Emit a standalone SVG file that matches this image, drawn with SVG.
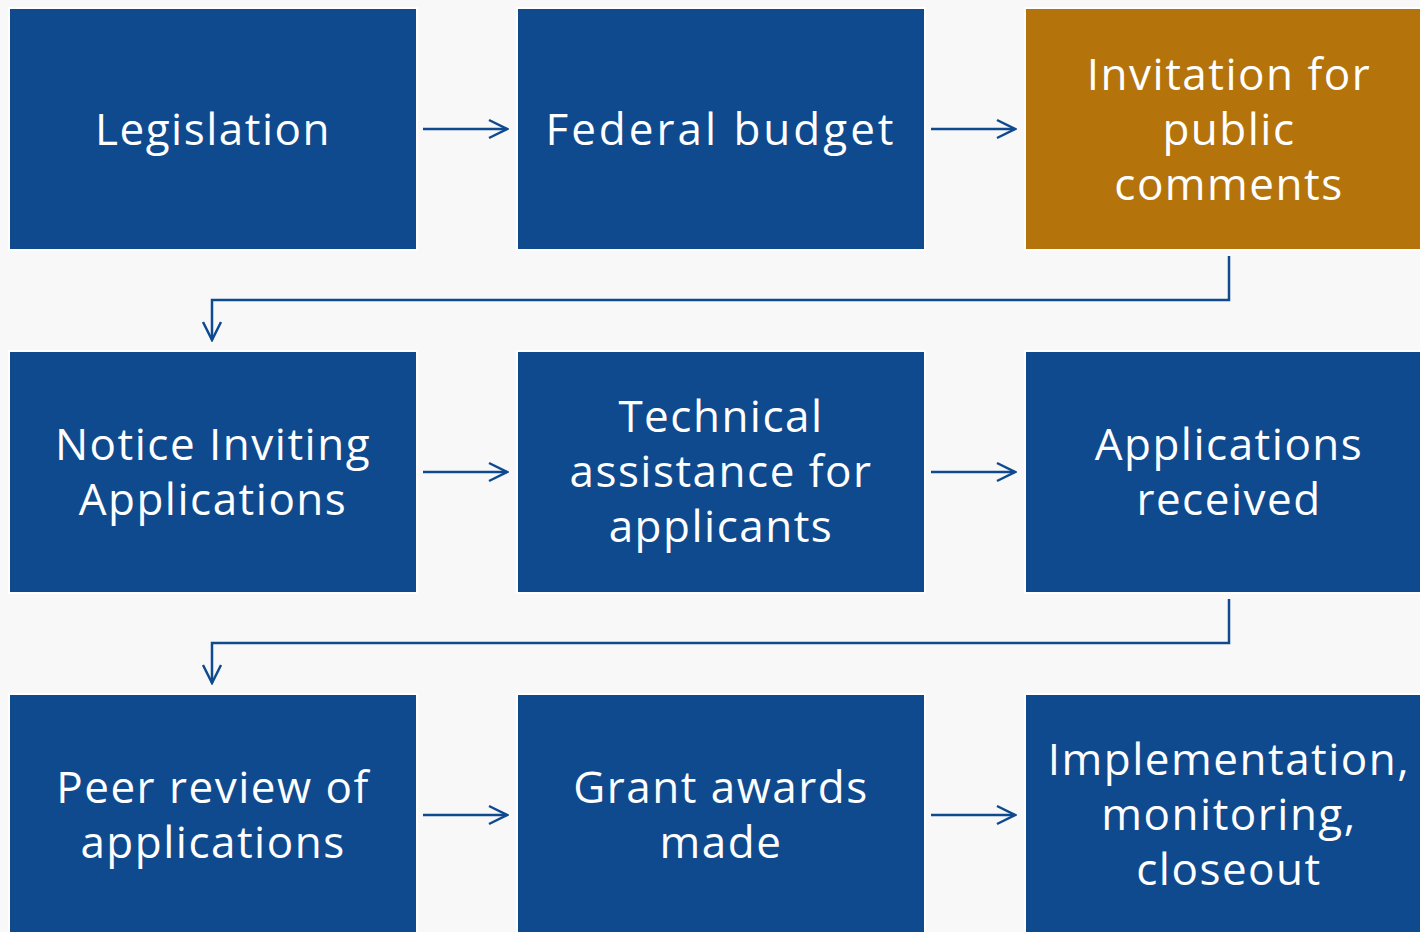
<svg xmlns="http://www.w3.org/2000/svg" width="1420" height="932" viewBox="0 0 1420 932">
<defs>
<style>
.box{fill:#0f4a8f;stroke:#ffffff;stroke-width:2}
.orange{fill:#b5730b;stroke:#ffffff;stroke-width:2}
.t{font-family:"Open Sans","Liberation Sans",sans-serif;font-size:44px;fill:#ffffff;text-anchor:middle;letter-spacing:1.5px}
.c{fill:none;stroke:#0f4a8f;stroke-width:2.5}
</style>
<marker id="ah2" viewBox="0 0 22 22" refX="20" refY="11" markerWidth="22" markerHeight="22" markerUnits="userSpaceOnUse" orient="auto">
<path d="M2,2 L20,11 L2,20" fill="none" stroke="#0f4a8f" stroke-width="2.5"/>
</marker>
</defs>
<rect width="1420" height="932" fill="#f8f8f8"/>
<g id="connectors">
<path class="c" d="M423,129 H507" marker-end="url(#ah2)"/>
<path class="c" d="M931,129 H1015" marker-end="url(#ah2)"/>
<path class="c" d="M1229,256 V300 H212 V340" marker-end="url(#ah2)"/>
<path class="c" d="M423,472 H507" marker-end="url(#ah2)"/>
<path class="c" d="M931,472 H1015" marker-end="url(#ah2)"/>
<path class="c" d="M1229,599 V643 H212 V683" marker-end="url(#ah2)"/>
<path class="c" d="M423,815 H507" marker-end="url(#ah2)"/>
<path class="c" d="M931,815 H1015" marker-end="url(#ah2)"/>
</g>
<g id="n1"><rect class="box" x="9" y="8" width="408" height="242"/><text class="t" x="213" y="145">Legislation</text></g>
<g id="n2"><rect class="box" x="517" y="8" width="408" height="242"/><text class="t" x="721" y="145" style="letter-spacing:3px">Federal budget</text></g>
<g id="n3"><rect class="orange" x="1025" y="8" width="400" height="242"/><text class="t" x="1229" y="90">Invitation for</text><text class="t" x="1229" y="145">public</text><text class="t" x="1229" y="200">comments</text></g>
<g id="n4"><rect class="box" x="9" y="351" width="408" height="242"/><text class="t" x="213" y="460">Notice Inviting</text><text class="t" x="213" y="515">Applications</text></g>
<g id="n5"><rect class="box" x="517" y="351" width="408" height="242"/><text class="t" x="721" y="432">Technical</text><text class="t" x="721" y="487">assistance for</text><text class="t" x="721" y="542">applicants</text></g>
<g id="n6"><rect class="box" x="1025" y="351" width="400" height="242"/><text class="t" x="1229" y="460">Applications</text><text class="t" x="1229" y="515">received</text></g>
<g id="n7"><rect class="box" x="9" y="694" width="408" height="250"/><text class="t" x="213" y="803">Peer review of</text><text class="t" x="213" y="858">applications</text></g>
<g id="n8"><rect class="box" x="517" y="694" width="408" height="250"/><text class="t" x="721" y="803">Grant awards</text><text class="t" x="721" y="858">made</text></g>
<g id="n9"><rect class="box" x="1025" y="694" width="400" height="250"/><text class="t" x="1229" y="775">Implementation,</text><text class="t" x="1229" y="830">monitoring,</text><text class="t" x="1229" y="885">closeout</text></g>
</svg>
